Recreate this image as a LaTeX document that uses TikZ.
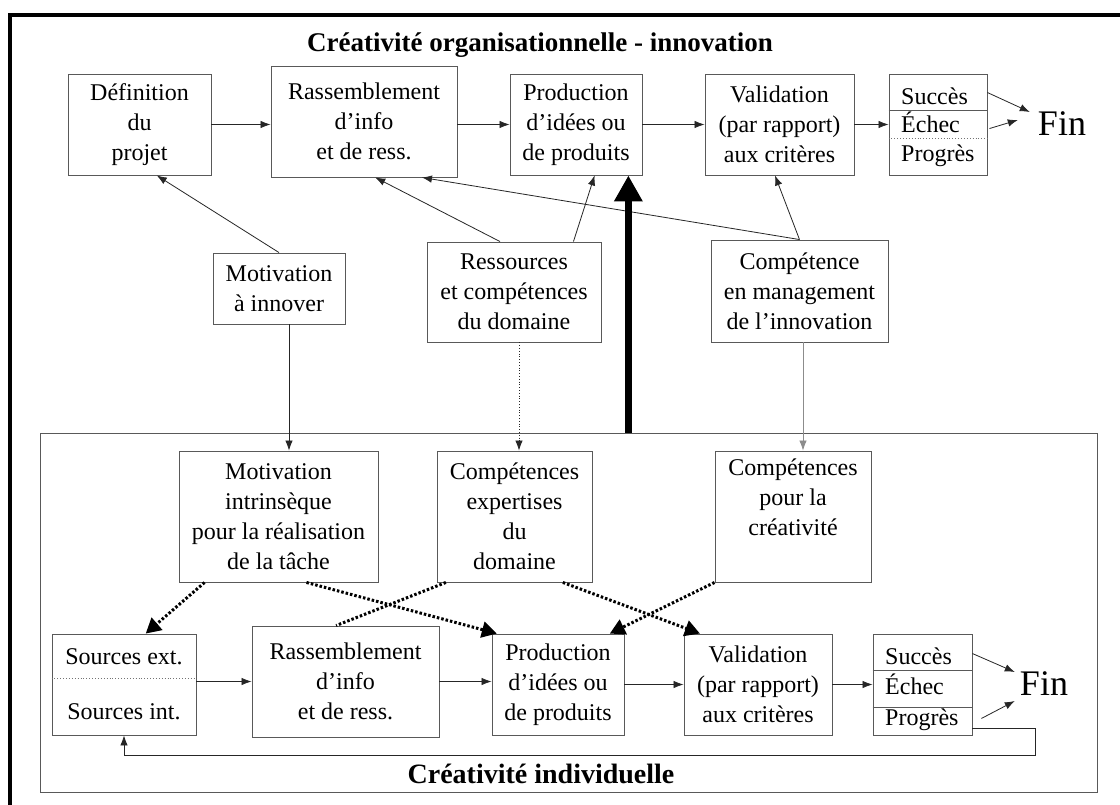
\documentclass[tikz,border=0pt]{standalone}
\usepackage{fontspec}
\setmainfont{Liberation Serif}
\usetikzlibrary{arrows.meta,calc}
\begin{document}
\begin{tikzpicture}[x=1pt,y=-1pt,
  box/.style={draw=black!65, line width=0.9pt, align=center, inner sep=0pt, font=\fontsize{24}{30}\selectfont},
  lbl/.style={inner sep=0pt, font=\fontsize{24}{30}\selectfont},
  finlbl/.style={inner sep=0pt, font=\fontsize{36}{36}\selectfont},
  ttl/.style={inner sep=0pt, font=\bfseries\fontsize{27}{30}\selectfont},
  ar/.style={draw=black!85, line width=0.8pt, -{Latex[length=10pt,width=7.5pt]}},
  dar/.style={draw=black, line width=3pt, dash pattern=on 2.5pt off 2pt, -{Triangle[length=15pt,width=16pt]}},
  dln/.style={draw=black, line width=3pt, dash pattern=on 2.5pt off 2pt},
  divl/.style={draw=black!65, line width=0.9pt},
  divd/.style={draw=black!55, line width=0.9pt, dotted},
]
\useasboundingbox (0,0) rectangle (1120,805);
\fill[white] (0,0) rectangle (1120,805);
\clip (0,0) rectangle (1120,805);

% outer frame
\draw[line width=4.5pt] (10,840) -- (10,15) -- (1150,15);

% inner frame
\node[draw=black!65, line width=0.9pt, minimum width=1057pt, minimum height=359pt, inner sep=0pt] (inner) at (568.5,612.5) {};

% titles
\node[ttl, anchor=base] (t1) at (540,52) {Créativité organisationnelle - innovation};
\node[ttl, anchor=base, font=\bfseries\fontsize{28}{30}\selectfont] (t2) at (541,783) {Créativité individuelle};

% top row
\node[box, minimum width=143pt, minimum height=101pt] (def) at (139.5,124.5) {Définition\\du\\projet};
\node[box, minimum width=186pt, minimum height=111pt] (rass) at (364,121.5) {Rassemblement\\d’info\\et de ress.};
\node[box, minimum width=132pt, minimum height=101pt] (prod) at (576,124.5) {Production\\d’idées ou\\de produits};
\node[box, minimum width=149pt, minimum height=101pt] (val) at (779.5,124.5) {Validation\\(par rapport)\\aux critères};
\node[box, minimum width=98pt, minimum height=101pt] (sep) at (938,124.5) {};
\draw[divl] ($(sep.north west)+(0,37)$) -- ($(sep.north east)+(0,37)$);
\draw[divd] ($(sep.north west)+(0,65)$) -- ($(sep.north east)+(0,65)$);
\node[lbl, anchor=base west] (s1) at (901,105) {Succès};
\node[lbl, anchor=base west] (e1) at (901,133) {Échec};
\node[lbl, anchor=base west] (p1) at (901,162) {Progrès};
\node[finlbl] (fin) at (1062,124) {Fin};

% middle row
\node[box, minimum width=132pt, minimum height=71pt] (motinn) at (279,288.5) {Motivation\\à innover};
\node[box, minimum width=174pt, minimum height=100pt] (ress) at (514,292) {Ressources\\et compétences\\du domaine};
\node[box, minimum width=177pt, minimum height=102pt] (comp) at (799.5,291) {Compétence\\en management\\de l’innovation};

% inner upper row
\node[box, minimum width=199pt, minimum height=131pt] (motint) at (278.5,516.5) {Motivation\\intrinsèque\\pour la réalisation\\de la tâche};
\node[box, minimum width=155pt, minimum height=131pt] (compexp) at (514.5,516.5) {Compétences\\expertises\\du\\domaine};
\node[box, minimum width=156pt, minimum height=131pt] (compcrea) at (793,516.5) {Compétences\\pour la\\créativité\\\strut};

% inner lower row
\node[box, minimum width=144pt, minimum height=101pt] (sources) at (124,684.5) {};
\draw[divd] ($(sources.north west)+(0,45)$) -- ($(sources.north east)+(0,45)$);
\node[lbl] (sext) at (124,657) {Sources ext.};
\node[lbl] (sint) at (124,712) {Sources int.};
\node[box, minimum width=187pt, minimum height=111pt] (rass2) at (345.5,681.5) {Rassemblement\\d’info\\et de ress.};
\node[box, minimum width=132pt, minimum height=101pt] (prod2) at (558,684.5) {Production\\d’idées ou\\de produits};
\node[box, minimum width=148pt, minimum height=101pt] (val2) at (758,684.5) {Validation\\(par rapport)\\aux critères};
\node[box, minimum width=99pt, minimum height=101pt] (sep2) at (922.5,684.5) {};
\draw[divl] ($(sep2.north west)+(0,37)$) -- ($(sep2.north east)+(0,37)$);
\draw[divl] ($(sep2.north west)+(0,74)$) -- ($(sep2.north east)+(0,74)$);
\node[lbl, anchor=base west] (s2) at (885,664) {Succès};
\node[lbl, anchor=base west] (e2) at (885,694) {Échec};
\node[lbl, anchor=base west] (p2) at (885,725) {Progrès};
\node[finlbl] (fin2) at (1044,684) {Fin};

% top row connectors
\draw[ar] (def) -- (def -| rass.west);
\draw[ar] (def -| rass.east) -- (def -| prod.west);
\draw[ar] (prod) -- (val);
\draw[ar] (val) -- (sep);
\draw[ar] ($(sep.north east)+(0,19)$) -- ($(fin.west)+(-8,-12)$);
\draw[ar] ($(sep.north east)+(2,55)$) -- ($(fin.west)+(-20,-4)$);

% middle to top
\draw[ar] (motinn.north) -- ($(def.south west)!0.62!(def.south east)$);
\draw[ar] ($(ress.north west)!0.42!(ress.north east)$) -- ($(rass.south west)!0.56!(rass.south east)$);
\draw[ar] ($(ress.north west)!0.84!(ress.north east)$) -- ($(prod.south west)!0.64!(prod.south east)$);
\draw[ar] (comp.north) -- ($(rass.south west)!0.81!(rass.south east)$);
\draw[ar] (comp.north) -- ($(val.south west)!0.47!(val.south east)$);
\coordinate (thk) at ($(prod.south west)!0.894!(prod.south east)$);
\draw[line width=7pt, -{Triangle[length=26pt,width=27pt]}] (thk |- inner.north) -- (thk);

% middle to inner
\coordinate (m1) at ([xshift=10pt]motinn.south);
\draw[ar] (m1) -- (m1 |- motint.north);
\coordinate (r1) at ([xshift=5pt]ress.south);
\draw[ar, dotted] (r1) -- (r1 |- compexp.north);
\coordinate (c1) at ([xshift=3.5pt]comp.south);
\draw[ar, draw=black!45] (c1) -- (c1 |- compcrea.north);

% dotted thick connectors
\draw[dar] ($(motint.south west)!0.13!(motint.south east)$) -- ($(sources.north west)!0.65!(sources.north east)$);
\draw[dar] ($(motint.south west)!0.64!(motint.south east)$) -- ($(prod2.north west)!0.04!(prod2.north east)$);
\draw[dln] ($(compexp.south west)!0.06!(compexp.south east)$) -- ($(rass2.north west)!0.45!(rass2.north east)$);
\draw[dar] ($(compexp.south west)!0.81!(compexp.south east)$) -- ($(val2.north west)!0.11!(val2.north east)$);
\draw[dar] (compcrea.south west) -- ($(prod2.north west)!0.89!(prod2.north east)$);

% bottom row connectors
\draw[ar] (sources.east |- rass2.west) -- (rass2.west);
\draw[ar] (rass2.east) -- (rass2.east -| prod2.west);
\draw[ar] (prod2) -- (val2);
\draw[ar] (val2) -- (sep2);
\draw[ar] ($(sep2.north east)+(0,20)$) -- ($(fin2.west)+(-5,-12)$);
\draw[ar] ($(sep2.south east)+(9,-17)$) -- ($(fin2.west)+(-5,17)$);
\draw[ar] ($(sep2.south east)+(0,-7)$) -- ++(63,0) -- ++(0,27) -| (sources.south);
\end{tikzpicture}
\end{document}
